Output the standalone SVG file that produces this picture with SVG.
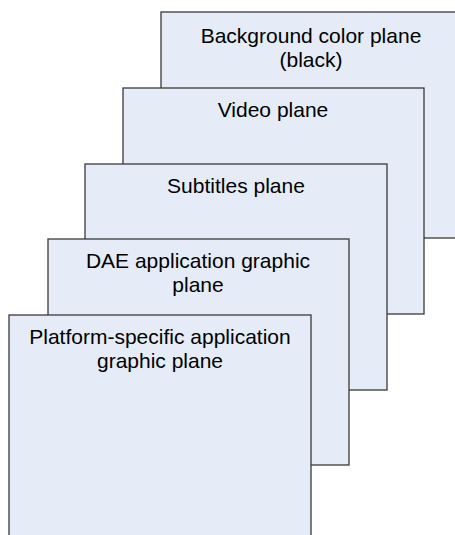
<svg xmlns="http://www.w3.org/2000/svg" width="455" height="535" viewBox="0 0 455 535">
<style>
.plane{fill:#E5ECF7;stroke:#3A3A3A;stroke-width:1.3}
.lbl{font-family:"Liberation Sans",Arial,sans-serif;font-size:21px;fill:#000;text-anchor:middle}
</style>
<rect width="455" height="535" fill="#fff"/>
<g id="background-plane">
<rect class="plane" x="161" y="12" width="302" height="226"/>
<text class="lbl" x="311" y="43">Background color plane</text>
<text class="lbl" x="311" y="67">(black)</text>
</g>
<g id="video-plane">
<rect class="plane" x="123" y="88" width="301" height="226"/>
<text class="lbl" x="273" y="117">Video plane</text>
</g>
<g id="subtitles-plane">
<rect class="plane" x="85" y="164" width="302" height="226"/>
<text class="lbl" x="236" y="193">Subtitles plane</text>
</g>
<g id="dae-plane">
<rect class="plane" x="48" y="239" width="301" height="226"/>
<text class="lbl" x="198" y="268">DAE application graphic</text>
<text class="lbl" x="198" y="292">plane</text>
</g>
<g id="platform-plane">
<rect class="plane" x="9" y="315" width="302" height="230"/>
<text class="lbl" x="160" y="344">Platform-specific application</text>
<text class="lbl" x="160" y="368">graphic plane</text>
</g>
<g id="connectors"/>
</svg>
